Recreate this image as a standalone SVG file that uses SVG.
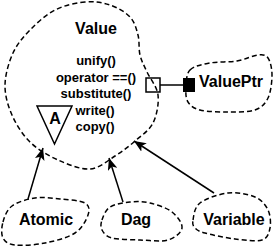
<svg xmlns="http://www.w3.org/2000/svg" width="274" height="248" viewBox="0 0 274 248">
<style>
.cloud{fill:none;stroke:#000;stroke-width:1.5;stroke-dasharray:5 3}
.name{font-family:"Liberation Sans",Arial,sans-serif;font-weight:bold;font-size:16px;fill:#000}
.op{font-family:"Liberation Sans",Arial,sans-serif;font-weight:bold;font-size:13px;fill:#000;text-anchor:middle}
.conn{fill:none;stroke:#000;stroke-width:1.5}
</style>
<defs>
<marker id="ah" viewBox="0 0 12 10" markerWidth="12" markerHeight="10" refX="12" refY="5" orient="auto" markerUnits="userSpaceOnUse">
<path d="M0,0 L12,5 L0,10 L3,5 Z" fill="#000"/>
</marker>
</defs>
<rect width="274" height="248" fill="#fff"/>
<g id="Value">
<path class="cloud" d="M85,2 C75.83,2.83 64.17,5.33 55,10 S37,22.83 30,30 S17.17,43.83 13,53 S5.17,74.67 5,85 S7.83,105.5 12,115 S22.33,134.5 30,142 S48,155.5 58,160 S80.5,169.67 90,169 S107.5,160.67 115,156 S128.67,146.5 135,141 S149.17,130.67 153,123 S159,103.5 158,95 S150,78.67 147,72 S141.5,61.17 140,55 S139.67,41.33 138,35 S134.67,22 130,17 S117.5,7.5 110,5 S94.17,1.17 85,2 Z"/>
<text class="name" x="96" y="34" text-anchor="middle">Value</text>
<text class="op" x="96" y="65">unify()</text>
<text class="op" x="96" y="81.5">operator ==()</text>
<text class="op" x="96" y="98">substitute()</text>
<text class="op" x="95" y="114.5">write()</text>
<text class="op" x="95" y="131">copy()</text>
<polygon points="37,106 72,106 54.5,144" fill="none" stroke="#000" stroke-width="1.5"/>
<text class="name" x="55" y="124" text-anchor="middle" font-size="15">A</text>
</g>
<g id="ValuePtr">
<path class="cloud" d="M190,70 C194,65.83 202.17,64.5 210,63 S229,62.33 237,61 S252.83,55.5 258,55 S265.67,54.67 268,58 S272,68.33 272,75 S270.83,92.17 268,98 S261.67,107.67 255,110 S237.17,112 228,112 S206.67,111.67 200,110 S190.33,105.67 188,102 S185.67,93.33 186,88 S186,74.17 190,70 Z"/>
<text class="name" x="199" y="87">ValuePtr</text>
</g>
<g id="Atomic">
<path class="cloud" d="M3,222 C4.5,216.67 6.67,210 12,206 S27,199.17 35,198 S51.67,198.17 60,199 S80.33,200.33 85,203 S89.67,210 88,215 S82.17,228.33 75,233 S55,241 45,243 S22,245.83 15,245 S5,241.83 3,238 S1.5,227.33 3,222 Z"/>
<text class="name" x="46" y="225" text-anchor="middle">Atomic</text>
</g>
<g id="Dag">
<path class="cloud" d="M102,220 C103.33,216.17 105.33,210 110,207 S123.33,202.67 130,202 S143,201.33 150,203 S166.67,207.83 172,212 S182.67,223.33 182,228 S175,238 168,240 S149.33,240.33 140,240 S118.33,239.67 112,238 S103.67,233 102,230 S100.67,223.83 102,220 Z"/>
<text class="name" x="136" y="225" text-anchor="middle">Dag</text>
</g>
<g id="Variable">
<path class="cloud" d="M193,220 C193.83,215.83 194.17,207.5 200,203 S218.83,194 228,193 S248.33,194.17 255,197 S265.5,204.83 268,210 S271,223 270,228 S267.83,238.17 262,240 S244.5,240.17 235,239 S211.67,234.83 205,233 S197,230.17 195,228 S192.17,224.17 193,220 Z"/>
<text class="name" x="234" y="225" text-anchor="middle">Variable</text>
</g>
<g id="connectors">
<rect x="146" y="78" width="14" height="14" fill="none" stroke="#000" stroke-width="1.5"/>
<line class="conn" x1="160" y1="85" x2="183" y2="85"/>
<rect x="183" y="78" width="12" height="14" fill="#000"/>
<line class="conn" x1="28" y1="199" x2="43" y2="148" marker-end="url(#ah)"/>
<line class="conn" x1="123" y1="202" x2="109" y2="158" marker-end="url(#ah)"/>
<line class="conn" x1="214" y1="193" x2="134" y2="141" marker-end="url(#ah)"/>
</g>
</svg>
